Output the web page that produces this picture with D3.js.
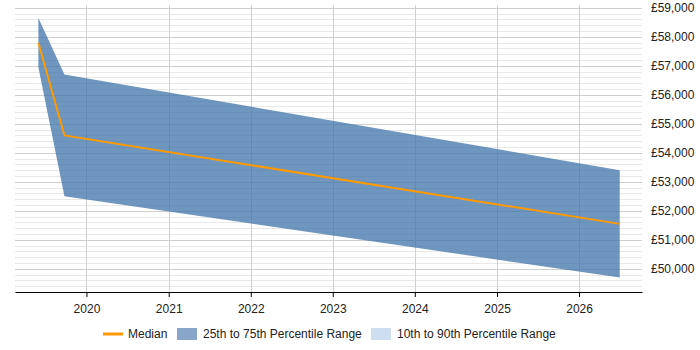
<!DOCTYPE html>
<html lang="en">
<head>
<meta charset="UTF-8">
<title>Salary percentile trend</title>
<script src="https://d3js.org/d3.v7.min.js"></script>
<style>
  body { margin: 0; background: #fff; }
  svg { display: block; font-family: "Liberation Sans", Arial, sans-serif; }
</style>
</head>
<body>
<svg id="chart" width="700" height="350"></svg>
<script>
// data
const dates = [new Date(2019, 5, 1), new Date(2019, 8, 25), new Date(2026, 6, 1)];
const p25 = [56950, 52500, 49700];
const median = [57800, 54600, 51550];
const p75 = [58650, 56700, 53400];
const yearTicks = [2020, 2021, 2022, 2023, 2024, 2025, 2026];
const legendLabels = ["Median", "25th to 75th Percentile Range", "10th to 90th Percentile Range"];

const svg = d3.select("#chart");
const plot = { left: 15, right: 642, top: 5, bottom: 292 };

const x = d3.scaleTime()
  .domain([new Date(2019, 1, 17), new Date(2026, 9, 8)])
  .range([plot.left, plot.right]);
const y = d3.scaleLinear()
  .domain([49200, 59100])
  .range([plot.bottom, plot.top]);

const rows = dates.map((d, i) => ({ date: d, lo: p25[i], mid: median[i], hi: p75[i] }));

// horizontal grid: minor every 200, major every 1000
const grid = svg.append("g");
d3.range(49400, 59100, 200).forEach(v => {
  const major = v % 1000 === 0;
  grid.append("line")
    .attr("x1", plot.left).attr("x2", plot.right)
    .attr("y1", Math.round(y(v)) + 0.5).attr("y2", Math.round(y(v)) + 0.5)
    .attr("stroke", major ? "#cfcfcf" : "#e8e8e8")
    .attr("stroke-width", 1);
});

// vertical grid at years
yearTicks.forEach(yr => {
  const xp = Math.round(x(new Date(yr, 0, 1))) + 0.5;
  grid.append("line")
    .attr("x1", xp).attr("x2", xp)
    .attr("y1", plot.top).attr("y2", plot.bottom)
    .attr("stroke", "#d0d0d0");
});

// 25-75 band
svg.append("path")
  .datum(rows)
  .attr("fill", "rgb(63,115,168)")
  .attr("fill-opacity", 0.75)
  .attr("d", d3.area()
    .x(d => x(d.date))
    .y0(d => y(d.lo))
    .y1(d => y(d.hi)));

// median
svg.append("path")
  .datum(rows)
  .attr("fill", "none")
  .attr("stroke", "#ff9900")
  .attr("stroke-width", 2)
  .attr("d", d3.line().x(d => x(d.date)).y(d => y(d.mid)));

// x axis
const xAxis = svg.append("g")
  .attr("transform", `translate(0,${plot.bottom})`)
  .call(d3.axisBottom(x)
    .tickValues(yearTicks.map(yr => new Date(yr, 0, 1)))
    .tickFormat(d3.timeFormat("%Y"))
    .tickSize(5)
    .tickSizeOuter(0));
xAxis.select(".domain").attr("stroke", "#000");
xAxis.selectAll(".tick line").attr("stroke", "#000");
xAxis.selectAll("text")
  .attr("font-size", 12)
  .attr("font-family", "Liberation Sans, Arial, sans-serif")
  .attr("fill", "#222")
  .attr("dy", "1.05em");

// y axis labels on right
const yAxis = svg.append("g")
  .attr("transform", `translate(${plot.right},0)`)
  .call(d3.axisRight(y)
    .tickValues(d3.range(50000, 59001, 1000))
    .tickFormat(d => "£" + d3.format(",")(d))
    .tickSize(0)
    .tickPadding(9));
yAxis.select(".domain").remove();
yAxis.selectAll("text")
  .attr("font-size", 12)
  .attr("font-family", "Liberation Sans, Arial, sans-serif")
  .attr("fill", "#222");

// legend
const lg = svg.append("g").attr("font-size", 12).attr("fill", "#222");
lg.append("line")
  .attr("x1", 103).attr("x2", 123)
  .attr("y1", 334).attr("y2", 334)
  .attr("stroke", "#ff9900").attr("stroke-width", 3);
lg.append("text").attr("x", 128).attr("y", 338).text(legendLabels[0]);
lg.append("rect")
  .attr("x", 177).attr("y", 328).attr("width", 20).attr("height", 12)
  .attr("fill", "rgb(135,166,201)");
lg.append("text").attr("x", 203).attr("y", 338).text(legendLabels[1]);
lg.append("rect")
  .attr("x", 371).attr("y", 328).attr("width", 20).attr("height", 12)
  .attr("fill", "rgb(205,222,240)");
lg.append("text").attr("x", 397).attr("y", 338).text(legendLabels[2]);
</script>
</body>
</html>
